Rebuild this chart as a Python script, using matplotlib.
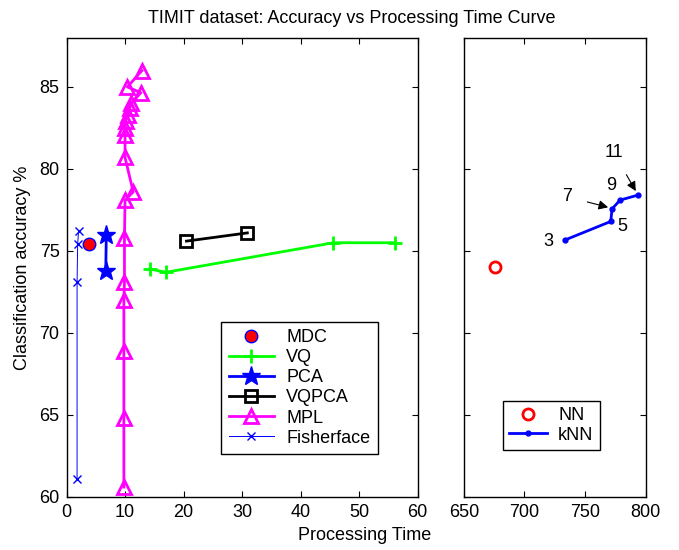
import matplotlib
matplotlib.use("Agg")
import matplotlib.pyplot as plt

plt.rcParams['font.family'] = ['Liberation Sans', 'DejaVu Sans']
plt.rcParams['font.size'] = 13

# data
mdc_x = [3.8]
mdc_y = [75.4]

vq_x = [14.2, 17.0, 45.6, 56.2]
vq_y = [73.9, 73.7, 75.5, 75.5]

pca_x = [6.8, 6.7]
pca_y = [76.0, 73.8]

vqpca_x = [20.5, 30.9]
vqpca_y = [75.6, 76.1]

mpl_x = [9.8, 9.8, 9.8, 9.8, 9.9, 9.9, 10.0, 11.4, 10.0, 10.0, 10.0, 10.1,
         10.5, 10.8, 11.1, 12.7, 10.4, 12.9]
mpl_y = [60.6, 64.8, 68.9, 72.0, 73.1, 75.8, 78.1, 78.6, 80.7, 82.1, 82.5, 82.9,
         83.3, 83.7, 84.0, 84.65, 85.0, 86.0]

fisher_x = [1.8, 1.8, 1.9, 2.05]
fisher_y = [61.1, 73.1, 75.4, 76.2]

nn_x = [675.5]
nn_y = [74.05]

knn_k = ['3', '5', '7', '9', '11']
knn_x = [733.5, 771.2, 772.2, 778.8, 793.4]
knn_y = [75.67, 76.8, 77.56, 78.1, 78.4]

fig = plt.figure(figsize=(6.79, 5.5), dpi=100)
ax1 = fig.add_axes([0.098, 0.0964, 0.517, 0.835])
ax2 = fig.add_axes([0.683, 0.0964, 0.268, 0.835])

ax1.plot(mdc_x, mdc_y, 'o', color='red', markeredgecolor='blue', markersize=9,
         label='MDC')
ax1.plot(vq_x, vq_y, '-+', color='#00ff00', lw=2, markersize=10, mew=2, label='VQ')
ax1.plot(pca_x, pca_y, '-*', color='blue', lw=2, markersize=14, label='PCA')
ax1.plot(vqpca_x, vqpca_y, '-s', color='black', lw=2, markersize=9, mew=2,
         markerfacecolor='none', label='VQPCA')
ax1.plot(mpl_x, mpl_y, '-^', color='magenta', lw=2, markersize=10, mew=2,
         markerfacecolor='none', label='MPL')
ax1.plot(fisher_x, fisher_y, '-x', color='blue', lw=0.7, markersize=6,
         label='Fisherface')

ax1.set_xlim(0, 60)
ax1.set_ylim(60, 88)
ax1.set_xticks(range(0, 61, 10))
ax1.set_yticks(range(60, 86, 5))
ax1.set_ylabel('Classification accuracy %', labelpad=6)

leg = ax1.legend(loc='upper left', bbox_to_anchor=(0.441, 0.381), fancybox=False,
                 framealpha=1, edgecolor='black', borderpad=0.4, labelspacing=0.17,
                 handlelength=2.5, borderaxespad=0, handletextpad=0.7)
leg.get_frame().set_linewidth(1)

ax2.plot(nn_x, nn_y, 'o', color='red', markerfacecolor='none', mew=2,
         markersize=8, label='NN')
ax2.plot(knn_x, knn_y, '.-', color='blue', lw=2, markersize=7, label='kNN')

# k labels
arrow = dict(arrowstyle='-|>', color='black', lw=0.8, mutation_scale=14,
             shrinkA=9, shrinkB=0)
ax2.text(719.5, 75.6, knn_k[0], ha='center', va='center')
ax2.text(780.5, 76.5, knn_k[1], ha='center', va='center')
ax2.annotate(knn_k[2], xy=(769, 77.66), xytext=(735.5, 78.3), ha='center',
             va='center', arrowprops=arrow)
ax2.text(771.7, 79.0, knn_k[3], ha='center', va='center')
ax2.annotate(knn_k[4], xy=(791.8, 78.65), xytext=(773.6, 81.0), ha='center',
             va='center', arrowprops=arrow)

ax2.set_xlim(650, 800)
ax2.set_ylim(60, 88)
ax2.set_xticks([650, 700, 750, 800])
ax2.set_yticks(range(60, 86, 5))
ax2.set_yticklabels([])

leg2 = ax2.legend(loc='upper left', bbox_to_anchor=(0.216, 0.21), fancybox=False,
                  framealpha=1, edgecolor='black', borderpad=0.35, labelspacing=0.15,
                  handlelength=2.1, borderaxespad=0, handletextpad=0.6)
leg2.get_frame().set_linewidth(1)

for ax in (ax1, ax2):
    ax.tick_params(direction='in', top=True, right=True, length=4, labelsize=13,
                   pad=5)
    for s in ax.spines.values():
        s.set_linewidth(1)

fig.text(0.518, 0.967, 'TIMIT dataset: Accuracy vs Processing Time Curve',
         ha='center', va='center', fontsize=13)
fig.text(0.537, 0.027, 'Processing Time', ha='center', va='center', fontsize=13)

fig.savefig('out.png', dpi=100)
